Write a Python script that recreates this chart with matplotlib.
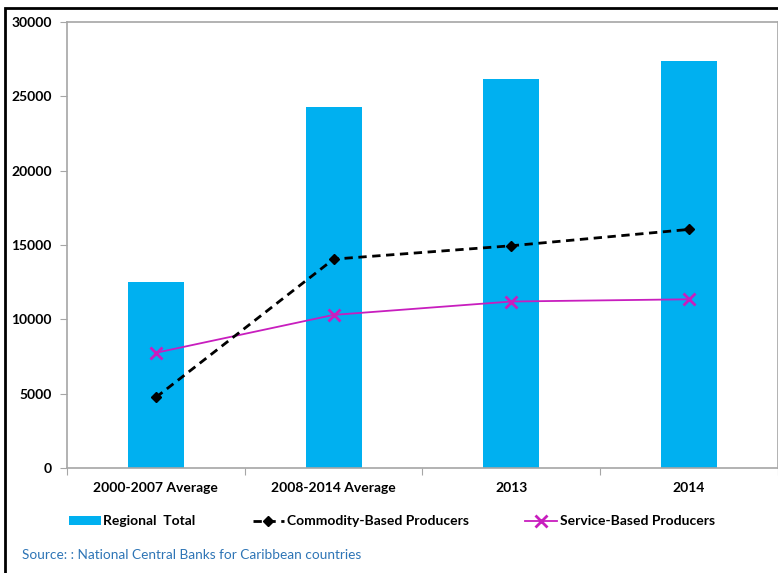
import matplotlib.pyplot as plt
from matplotlib.lines import Line2D
from matplotlib.patches import Patch, Rectangle
import numpy as np

plt.rcParams['font.family'] = ['Lato', 'DejaVu Sans']

categories = ['2000-2007 Average', '2008-2014 Average', '2013', '2014']
regional_total = [12500, 24300, 26150, 27400]
commodity_based = [4750, 14050, 14950, 16050]
service_based = [7750, 10300, 11200, 11350]

bar_color = '#00B0F0'
service_color = '#C81EBE'
grey = '#A6A6A6'

fig = plt.figure(figsize=(7.78, 5.73), dpi=100)
ax = fig.add_axes([0.0861, 0.1832, 0.9139, 0.7784])

x = np.arange(len(categories))
ax.bar(x, regional_total, width=0.315, color=bar_color, zorder=1)
ax.plot(x, commodity_based, color='black', linestyle=(0, (3, 2)), lw=2,
        marker='D', markersize=5, zorder=3)
ax.plot(x, service_based, color=service_color, lw=1.3,
        marker='x', markersize=8, markeredgewidth=2, zorder=2)

ax.set_xlim(-0.5, len(categories) - 0.5)
ax.set_ylim(0, 30000)
ax.set_yticks(np.arange(0, 30001, 5000))

# category ticks sit between the groups, labels centred under each group
ax.set_xticks(np.arange(-0.5, len(categories), 1.0))
ax.set_xticklabels([])
ax.set_xticks(x, minor=True)
ax.set_xticklabels(categories, minor=True, fontsize=10, fontweight='bold')
ax.tick_params(axis='x', which='minor', length=0, pad=10)
ax.tick_params(axis='x', which='major', length=5, color=grey, direction='out')
ax.tick_params(axis='y', length=5, color=grey, direction='out', pad=6)
for lbl in ax.get_yticklabels():
    lbl.set_fontweight('bold')
    lbl.set_fontsize(10)

for side in ['top', 'right', 'left', 'bottom']:
    ax.spines[side].set_color(grey)
    ax.spines[side].set_linewidth(1.2)

handles = [
    Patch(facecolor=bar_color, edgecolor='none'),
    Line2D([], [], color='black', linestyle=(0, (3, 2)), lw=2, marker='D', markersize=5),
    Line2D([], [], color=service_color, lw=1.3, marker='x', markersize=8, markeredgewidth=2),
]
labels = ['Regional  Total', 'Commodity-Based Producers', 'Service-Based Producers']
leg = fig.legend(handles, labels, loc='center left', bbox_to_anchor=(0.073, 0.09),
                 ncol=3, frameon=False, handlelength=2.3, handleheight=0.6,
                 handletextpad=0.15, columnspacing=4.1,
                 prop={'weight': 'bold', 'size': 10})

fig.text(0.028, 0.031, 'Source: : National Central Banks for Caribbean countries',
         color='#2E75B6', fontsize=9.8, va='center')

# outer frame of the figure
fig.patches.append(Rectangle((0.0065, -0.05), 1.2, 1.036, transform=fig.transFigure,
                             fill=False, edgecolor='black', lw=2))

fig.savefig('out.png', dpi=100)
